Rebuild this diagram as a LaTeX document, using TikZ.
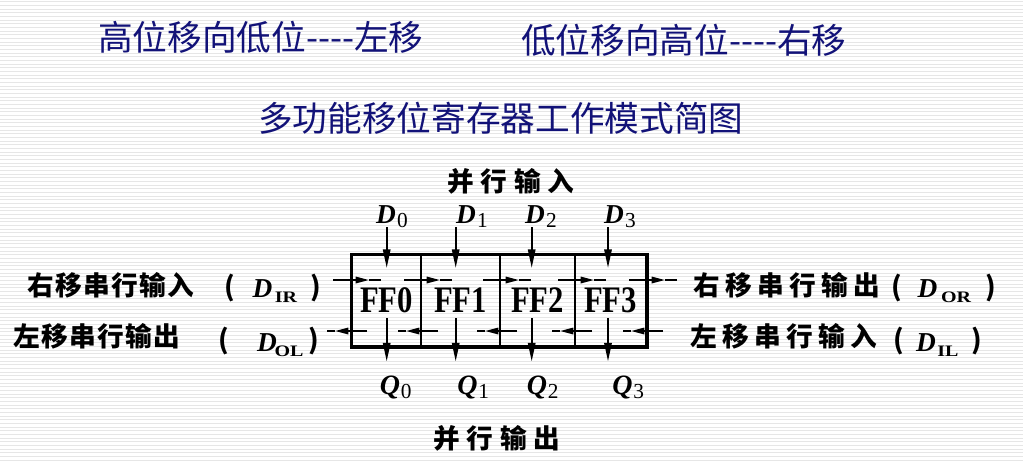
\documentclass[tikz,border=0pt]{standalone}
\usepackage{fontspec}
\usetikzlibrary{arrows.meta,calc}
\newfontfamily\cjk{Noto Sans CJK SC}
\newfontfamily\tms{Liberation Serif}
\definecolor{navy}{RGB}{18,18,120}
\definecolor{stripe}{RGB}{230,230,230}
\newcommand\tfnt{\cjk\fontsize{26pt}{30pt}\selectfont}
\newcommand\lfnt{\cjk\bfseries\fontsize{20pt}{24pt}\selectfont}
\newcommand\dfnt{\tms\bfseries\itshape\fontsize{20.5pt}{24pt}\selectfont}
\newcommand\qfnt{\tms\bfseries\itshape\fontsize{21pt}{25pt}\selectfont}
\newcommand\subfnt{\tms\fontsize{16pt}{19pt}\selectfont}
\newcommand\ssfnt{\tms\bfseries\fontsize{12pt}{14pt}\selectfont}
\newcommand\ffnt{\tms\bfseries\fontsize{23pt}{28pt}\selectfont}
\newcommand\ssub[1]{\scalebox{1.25}[1]{#1}}
\newcommand\fftext[1]{\scalebox{1}[1.22]{#1}}
\begin{document}
\begin{tikzpicture}[x=0.75pt,y=-0.75pt,
  lbl/.style={inner sep=0pt,outer sep=0pt},
  cell/.style={draw,line width=1.5pt,minimum height=68.25pt,inner sep=0pt,font=\ffnt},
  va/.style={line width=1.5pt,-{Triangle[length=14pt,width=5.5pt]}},
  ha/.style={line width=1.4pt,-{Triangle[length=10pt,width=4.8pt]}},
  hl/.style={line width=1.4pt},
  stripeline/.style={draw=stripe,line width=0.75pt}]
\useasboundingbox (0,0) rectangle (1023,462);
\fill[white] (0,0) rectangle (1023,462);
\foreach \i in {0,...,125} \draw[stripeline] (0,{1.7+\i*3.667}) -- (1023,{1.7+\i*3.667});

% titles
\node[lbl,anchor=west,text=navy,font=\tfnt] (t1) at (98,37) {高位移向低位----左移};
\node[lbl,anchor=west,text=navy,font=\tfnt] (t2) at (521,40) {低位移向高位----右移};
\node[lbl,anchor=west,text=navy,font=\tfnt] (t3) at (258,118) {多功能移位寄存器工作模式简图};

% cells
\node[cell,minimum width=51.75pt] (c0) at (386.5,300.5) {\fftext{FF0}};
\node[cell,minimum width=59.25pt] (c1) at (460.5,300.5) {\fftext{FF1}};
\node[cell,minimum width=56.25pt] (c2) at (537.5,300.5) {\fftext{FF2}};
\node[cell,minimum width=53.25pt] (c3) at (610.5,300.5) {\fftext{FF3}};
\draw[line width=2.25pt] (c0.north west) rectangle (c3.south east);

% parallel labels
\node[lbl,anchor=west,font=\lfnt] (pin) at (447,181) {\addfontfeature{LetterSpace=26}并行输入};
\node[lbl,anchor=west,font=\lfnt] (pout) at (433,438) {\addfontfeature{LetterSpace=26}并行输出};

% D labels
\node[lbl,anchor=base,font=\dfnt] (d0) at (386,223) {D};
\node[lbl,anchor=base,font=\dfnt] (d1) at (466,223) {D};
\node[lbl,anchor=base,font=\dfnt] (d2) at (535,223) {D};
\node[lbl,anchor=base,font=\dfnt] (d3) at (614,223) {D};
\foreach \k in {0,1,2,3}
  \node[lbl,anchor=base west,xshift=1pt,yshift=-3.5pt,font=\subfnt] (d\k s) at (d\k.base east) {\k};

% Q labels
\node[lbl,anchor=base,font=\qfnt] (q0) at (390,394) {Q};
\node[lbl,anchor=base,font=\qfnt] (q1) at (467.5,394) {Q};
\node[lbl,anchor=base,font=\qfnt] (q2) at (537,394) {Q};
\node[lbl,anchor=base,font=\qfnt] (q3) at (622.5,394) {Q};
\foreach \k in {0,1,2,3}
  \node[lbl,anchor=base west,xshift=0.5pt,yshift=-3pt,font=\subfnt] (q\k s) at (q\k.base east) {\k};

% vertical arrow coordinates
\coordinate (dt0) at (386.7,268); \coordinate (qs0) at (386.7,318);
\coordinate (dt1) at (455.7,268); \coordinate (qs1) at (455.7,318);
\coordinate (dt2) at (531.7,268); \coordinate (qs2) at (531.7,318);
\coordinate (dt3) at (608,268);   \coordinate (qs3) at (608,318);
\foreach \k in {0,1,2,3}{
  \draw[va] ($(d\k.south -| dt\k)+(0,4)$) -- (dt\k);
  \draw[va] (qs\k) -- ($(q\k.north -| qs\k)+(0,-14)$);
}

% shift lines
\foreach \b in {c0.west,c0.east,c1.east,c2.east,c3.east}{
  \draw[ha] ($(\b)+(-18,-20.5)$) -- ($(\b)+(18,-20.5)$);
  \draw[hl] ($(\b)+(18,-20.5)$) -- ($(\b)+(30,-20.5)$);
  \draw[ha] ($(\b)+(16,30.5)$) -- ($(\b)+(-16,30.5)$);
  \draw[hl] ($(\b)+(-16,30.5)$) -- ($(\b)+(-24,30.5)$);
}

% left side labels
\node[lbl,anchor=west,font=\lfnt] (lir) at (27,285.5) {\addfontfeature{LetterSpace=5}右移串行输入};
\node[lbl,font=\lfnt] (lirp) at (230,288) {(};
\node[lbl,anchor=base,font=\dfnt] (lird) at (262.5,297) {D};
\node[lbl,anchor=base,font=\ssfnt] (lirs) at (286,302) {\ssub{IR}};
\node[lbl,font=\lfnt] (lirq) at (316,288) {)};

\node[lbl,anchor=west,font=\lfnt] (lol) at (13,336.5) {\addfontfeature{LetterSpace=5}左移串行输出};
\node[lbl,font=\lfnt] (lolp) at (223.5,341) {(};
\node[lbl,anchor=base,font=\dfnt] (lold) at (267,351) {D};
\node[lbl,anchor=base,font=\ssfnt] (lols) at (289,356) {\ssub{OL}};
\node[lbl,font=\lfnt] (lolq) at (314,341) {)};

% right side labels
\node[lbl,anchor=west,font=\lfnt] (ror) at (693,285) {\addfontfeature{LetterSpace=20}右移串行输出};
\node[lbl,font=\lfnt] (rorp) at (897,288) {(};
\node[lbl,anchor=base,font=\dfnt] (rord) at (927.5,297) {D};
\node[lbl,anchor=base,font=\ssfnt] (rors) at (956,302) {\ssub{OR}};
\node[lbl,font=\lfnt] (rorq) at (991,288) {)};

\node[lbl,anchor=west,font=\lfnt] (ril) at (690,336.5) {\addfontfeature{LetterSpace=20}左移串行输入};
\node[lbl,font=\lfnt] (rilp) at (899,341) {(};
\node[lbl,anchor=base,font=\dfnt] (rild) at (926,351) {D};
\node[lbl,anchor=base,font=\ssfnt] (rils) at (948,356) {\ssub{IL}};
\node[lbl,font=\lfnt] (rilq) at (977,341) {)};
\end{tikzpicture}
\end{document}
